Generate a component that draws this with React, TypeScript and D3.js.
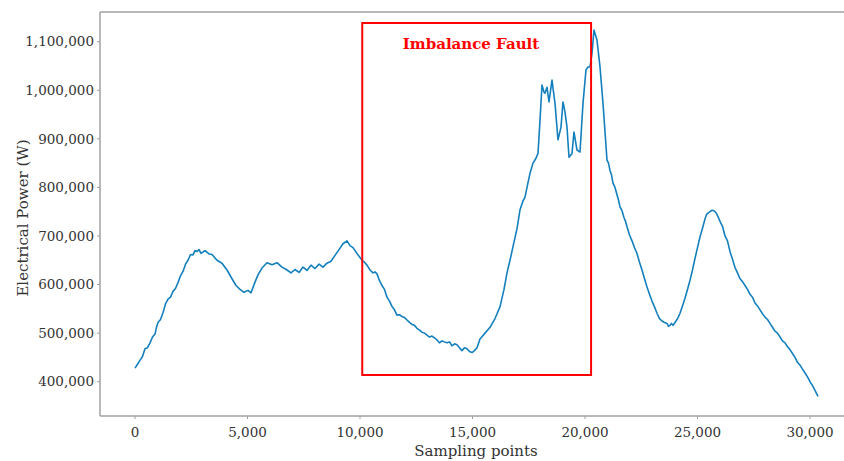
import React from "react";
import * as d3 from "d3";

const samplePoints = [
  0, 111, 222, 333, 444, 555, 667, 778, 889, 955, 1022, 1133, 1244, 1355, 1467, 1578, 1689, 1800, 1911, 2022,
  2133, 2245, 2356, 2467, 2578, 2667, 2756, 2845, 2933,
  3111, 3289, 3422, 3644, 3867, 4089, 4311, 4489, 4667, 4844, 5022, 5156, 5333, 5467, 5644, 5867, 6089, 6311, 6533, 6756,
  6933, 7111, 7289, 7467, 7644, 7822, 8000, 8178, 8356, 8533, 8711, 8889, 9067, 9244, 9422, 9556, 9689, 9867,
  10089, 10200, 10311, 10445, 10578, 10667, 10756, 10867, 10978, 11089, 11200, 11311, 11422, 11533, 11644, 11755, 11867, 11978, 12089, 12200,
  12311, 12422, 12533, 12645, 12756, 12867, 12978, 13089, 13200, 13311, 13422, 13533, 13644, 13755, 13867, 13978, 14089, 14200, 14311, 14422,
  14533, 14645, 14756, 14867, 14978, 15089, 15200,
  15333, 15556, 15778, 16000, 16222, 16400, 16533, 16667, 16800, 16978, 17111, 17244, 17333, 17467, 17556, 17689, 17822, 17911, 18000, 18089,
  18178, 18222, 18311, 18400, 18533, 18667, 18800, 18933, 19022, 19111, 19200, 19289, 19422, 19511, 19644, 19778, 19911, 20044, 20133, 20222,
  20311, 20400, 20533, 20667, 20800,
  20978, 21044, 21111, 21178, 21244, 21333, 21422, 21489, 21556, 21645, 21733, 21800, 21867, 21978, 22089, 22200, 22311, 22422, 22533, 22645,
  22756, 22867, 22978, 23089, 23200, 23311, 23422, 23533, 23644, 23711, 23778, 23844, 23911, 24000, 24089, 24156, 24222, 24333, 24444, 24555,
  24667, 24778, 24889, 25000, 25111, 25222, 25333, 25400, 25467, 25555, 25644, 25733, 25822, 25911,
  26000, 26111, 26222, 26333, 26444, 26555, 26667, 26778, 26889, 27000, 27111, 27222, 27333, 27444, 27556, 27667, 27778, 27889, 28000, 28111,
  28222, 28333, 28444, 28555, 28667, 28778, 28889, 29000, 29111, 29222, 29333, 29444, 29556, 29667, 29778, 29889, 30000, 30111, 30222, 30356,
];

const powerValues = [
  428000, 436000, 444000, 452000, 468000, 470000, 480000, 492000, 498000, 512000, 522000, 528000, 542000, 560000, 570000, 574000, 586000, 592000, 604000, 618000,
  627000, 642000, 650000, 662000, 661000, 670000, 668000, 672000, 664000,
  670000, 663000, 662000, 650000, 644000, 630000, 612000, 598000, 590000, 584000, 588000, 583000, 605000, 620000, 634000, 645000, 641000, 645000, 636000, 630000,
  624000, 631000, 625000, 636000, 629000, 640000, 633000, 642000, 636000, 644000, 648000, 660000, 672000, 684000, 690000, 680000, 676000, 664000,
  650000, 646000, 640000, 630000, 624000, 626000, 622000, 608000, 598000, 590000, 574000, 566000, 555000, 548000, 537000, 538000, 534000, 532000, 527000, 522000,
  518000, 516000, 510000, 506000, 502000, 500000, 496000, 492000, 494000, 490000, 486000, 480000, 484000, 482000, 480000, 482000, 474000, 478000, 476000, 470000,
  464000, 470000, 468000, 462000, 460000, 464000, 470000,
  488000, 500000, 512000, 530000, 554000, 590000, 624000, 650000, 678000, 715000, 754000, 772000, 780000, 810000, 829000, 850000, 860000, 870000, 938000, 1011000,
  996000, 994000, 1006000, 976000, 1021000, 973000, 898000, 924000, 976000, 955000, 924000, 862000, 870000, 914000, 877000, 873000, 973000, 1042000, 1048000, 1048000,
  1076000, 1124000, 1103000, 1048000, 973000,
  856000, 850000, 835000, 826000, 809000, 800000, 785000, 774000, 760000, 752000, 738000, 730000, 719000, 702000, 690000, 676000, 664000, 646000, 630000, 612000,
  595000, 580000, 566000, 554000, 541000, 530000, 525000, 522000, 520000, 514000, 516000, 520000, 516000, 522000, 528000, 534000, 541000, 556000, 572000, 590000,
  609000, 630000, 654000, 676000, 698000, 716000, 735000, 744000, 747000, 750000, 753000, 752000, 748000, 740000,
  730000, 720000, 700000, 690000, 668000, 652000, 635000, 624000, 612000, 606000, 598000, 590000, 580000, 574000, 562000, 556000, 548000, 540000, 533000, 528000,
  520000, 512000, 504000, 500000, 492000, 484000, 480000, 472000, 466000, 458000, 450000, 440000, 434000, 426000, 418000, 410000, 400000, 392000, 382000, 370000,
];

const xTicks = [0, 5000, 10000, 15000, 20000, 25000, 30000];
const yTicks = [400000, 500000, 600000, 700000, 800000, 900000, 1000000, 1100000];
const faultBox = { x0: 10100, x1: 20270, y0: 413800, y1: 1138500 };
const faultLabel = "Imbalance Fault";
const xTitle = "Sampling points";
const yTitle = "Electrical Power (W)";

export default function App() {
  const W = 844, H = 461;
  const left = 100, top = 12, bottom = 416, right = 846;
  const x = d3.scaleLinear().domain([0, 30000]).range([135, 810]);
  const y = d3.scaleLinear().domain([400000, 1100000]).range([381.7, 41.7]);
  const fmt = d3.format(",");
  const pts: [number, number][] = samplePoints.map((s, i) => [s, powerValues[i]]);
  const line = d3.line<[number, number]>().x(d => x(d[0])).y(d => y(d[1]));
  const font = "'DejaVu Serif', serif";
  const spine = "#a0a0a0";
  return (
    <svg width={W} height={H} style={{ position: "absolute", left: 0, top: 0, background: "#fff" }}>
      <rect x={0} y={0} width={W} height={H} fill="#fff" />
      <line x1={left} x2={right} y1={top} y2={top} stroke={spine} strokeWidth={1.5} />
      <line x1={left} x2={left} y1={top} y2={bottom} stroke={spine} strokeWidth={1.5} />
      <line x1={left} x2={right} y1={bottom} y2={bottom} stroke={spine} strokeWidth={1.5} />
      {yTicks.map(t => (
        <g key={t}>
          <line x1={left - 3} x2={left} y1={y(t)} y2={y(t)} stroke={spine} strokeWidth={1} />
          <text x={left - 6} y={y(t)} dy="0.35em" textAnchor="end" fontFamily={font} fontSize={13.5} fill="#333">{fmt(t)}</text>
        </g>
      ))}
      {xTicks.map(t => (
        <g key={t}>
          <line x1={x(t)} x2={x(t)} y1={bottom} y2={bottom + 3} stroke={spine} strokeWidth={1} />
          <text x={x(t)} y={bottom + 21} textAnchor="middle" fontFamily={font} fontSize={13.5} fill="#333">{fmt(t)}</text>
        </g>
      ))}
      <text x={476} y={456} textAnchor="middle" fontFamily={font} fontSize={15} fill="#333">{xTitle}</text>
      <text transform={`translate(28,218) rotate(-90)`} textAnchor="middle" fontFamily={font} fontSize={15} fill="#333">{yTitle}</text>
      <path d={line(pts) || ""} fill="none" stroke="#1380bd" strokeWidth={1.6} strokeLinejoin="round" />
      <rect x={x(faultBox.x0)} y={y(faultBox.y1)} width={x(faultBox.x1) - x(faultBox.x0)} height={y(faultBox.y0) - y(faultBox.y1)} fill="none" stroke="#ff0000" strokeWidth={2} />
      <text x={471} y={49} textAnchor="middle" fontFamily={font} fontWeight="bold" fontSize={15} fill="#ff0000">{faultLabel}</text>
    </svg>
  );
}
